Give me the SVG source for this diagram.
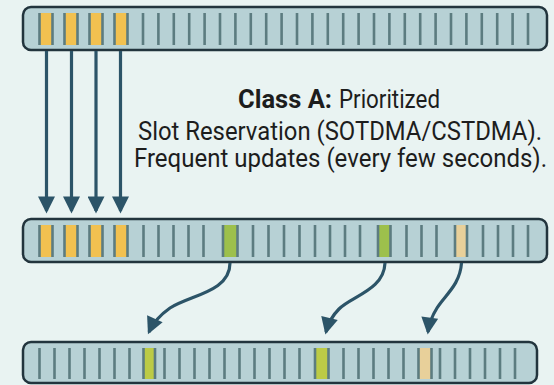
<svg xmlns="http://www.w3.org/2000/svg" width="554" height="385" viewBox="0 0 554 385">
  <style>
    .bar { fill: #b7d1d5; stroke: #22343d; stroke-width: 2.5; }
    .tick { stroke: #5c7c80; stroke-width: 2.6; fill: none; }
    .yel { fill: #f2c150; }
    .grn { fill: #9dc04c; }
    .grn2 { fill: #bccb46; }
    .tan { fill: #e8d09a; }
    .arrow { stroke: #2c5468; stroke-width: 3.2; fill: none; marker-end: url(#head); }
    .txt { font-family: Roboto, "Liberation Sans", sans-serif; font-size: 23px; fill: #1d1d1d; }
    .b { font-weight: bold; }
  </style>
  <defs>
    <marker id="head" viewBox="0 0 10 10" refX="8.5" refY="5" markerUnits="userSpaceOnUse" markerWidth="18" markerHeight="17" orient="auto">
      <path d="M0,0 L10,5 L0,10 z" fill="#2c5468"/>
    </marker>
  </defs>
  <rect width="554" height="385" fill="#e9f3f2"/>

  <!-- frame sequence before reservation -->
  <g id="frame-top">
    <rect class="bar" x="23" y="7" width="524" height="43" rx="8"/>
    <rect class="yel" x="39.5" y="13" width="13" height="32"/>
    <rect class="yel" x="64.5" y="13" width="13" height="32"/>
    <rect class="yel" x="89.5" y="13" width="13" height="32"/>
    <rect class="yel" x="114.5" y="13" width="13" height="32"/>
    <path class="tick" d="M39.5,13V45M52.5,13V45M64.5,13V45M77.5,13V45M89.5,13V45M102.5,13V45M114.5,13V45M127.5,13V45
      M143,13V45M158.4,13V45M173.8,13V45M189.2,13V45M204.6,13V45M220,13V45M235.4,13V45M250.8,13V45M266.2,13V45
      M281.6,13V45M297,13V45M312.4,13V45M327.8,13V45M343.2,13V45M358.6,13V45M374,13V45M389.4,13V45M404.8,13V45
      M420.2,13V45M435.6,13V45M451,13V45M466.4,13V45M481.8,13V45M497.2,13V45M512.6,13V45M528,13V45"/>
  </g>

  <!-- frame sequence with reserved slots -->
  <g id="frame-middle">
    <rect class="bar" x="23" y="219" width="524" height="43" rx="8"/>
    <rect class="yel" x="39.5" y="225" width="13" height="32"/>
    <rect class="yel" x="64.5" y="225" width="13" height="32"/>
    <rect class="yel" x="89.5" y="225" width="13" height="32"/>
    <rect class="yel" x="114.5" y="225" width="13" height="32"/>
    <rect class="grn" x="223" y="225" width="14.5" height="32"/>
    <rect class="grn" x="378" y="225" width="12.5" height="32"/>
    <rect class="tan" x="455" y="225" width="12" height="32"/>
    <path class="tick" d="M39.5,225V257M52.5,225V257M64.5,225V257M77.5,225V257M89.5,225V257M102.5,225V257M114.5,225V257M127.5,225V257
      M143.5,225V257M158.5,225V257M173.5,225V257M188.5,225V257M203.5,225V257M223,225V257M237.5,225V257
      M253,225V257M268.5,225V257M284,225V257M299.5,225V257M315,225V257M330,225V257M345,225V257M360,225V257
      M378,225V257M390.5,225V257M406.5,225V257M421.5,225V257M436.5,225V257M455,225V257M467,225V257
      M483,225V257M498,225V257M513,225V257M528,225V257"/>
  </g>

  <!-- following frame -->
  <g id="frame-bottom">
    <rect class="bar" x="23" y="342" width="514" height="41" rx="8"/>
    <rect class="grn2" x="143.5" y="348" width="11.5" height="31"/>
    <rect class="grn2" x="315" y="348" width="13.5" height="31"/>
    <rect class="tan" x="418.5" y="348" width="13" height="31"/>
    <path class="tick" d="M39.5,348V379M54.5,348V379M69.5,348V379M84.5,348V379M99.5,348V379M114.5,348V379M129.5,348V379
      M143.5,348V379M155,348V379M164.5,348V379M179.5,348V379M194.5,348V379M209.5,348V379M224.5,348V379M239.5,348V379
      M254.5,348V379M269.5,348V379M284.5,348V379M299.5,348V379M315,348V379M328.5,348V379M343.5,348V379M358.5,348V379
      M373.5,348V379M388.5,348V379M403.5,348V379M418.5,348V379M431.5,348V379M440,348V379M455,348V379M470,348V379
      M485,348V379M500,348V379M515,348V379"/>
  </g>

  <!-- caption, glyphs stretched vertically for a condensed look -->
  <g id="label" transform="scale(1,1.13)">
    <text class="txt b" x="238" y="96" textLength="94" lengthAdjust="spacingAndGlyphs">Class A:</text>
    <text class="txt" x="339" y="96" textLength="101" lengthAdjust="spacingAndGlyphs">Prioritized</text>
    <text class="txt" x="138" y="124" textLength="404" lengthAdjust="spacingAndGlyphs">Slot Reservation (SOTDMA/CSTDMA).</text>
    <text class="txt" x="134" y="148.2" textLength="413" lengthAdjust="spacingAndGlyphs">Frequent updates (every few seconds).</text>
  </g>

  <g id="connectors">
    <path class="arrow" d="M46.5,51V211"/>
    <path class="arrow" d="M71.5,51V211"/>
    <path class="arrow" d="M96,51V211"/>
    <path class="arrow" d="M120.5,51V211"/>
    <path class="arrow" d="M230,263 C230,292 190,295 170,308 C160,315 153,323 149,332"/>
    <path class="arrow" d="M385,263 C384,290 352,296 339,309 C332,316 328,324 326,332"/>
    <path class="arrow" d="M461.5,263 C460,285 445,295 437,308 C432,316 429,324 428,332"/>
  </g>
</svg>
